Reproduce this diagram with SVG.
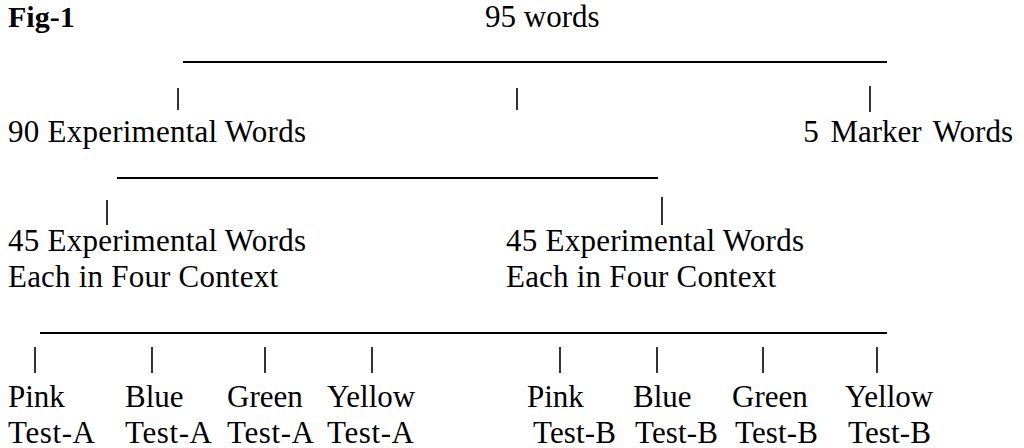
<svg xmlns="http://www.w3.org/2000/svg" width="1024" height="448" viewBox="0 0 1024 448">
<style>
text{font-family:"Liberation Serif","Times New Roman",serif;font-size:31px;fill:#000}
.b{font-weight:bold;font-size:30px}
.h{stroke:#000;stroke-width:2;fill:none}
.t{stroke:#000;stroke-width:1.6;fill:none}
</style>
<rect width="1024" height="448" fill="#fff"/>
<g id="title"><text class="b" x="8" y="27">Fig-1</text></g>
<g id="root"><text x="485" y="27">95 words</text></g>
<g id="exp90"><text x="8" y="142" textLength="298" lengthAdjust="spacing">90 Experimental Words</text></g>
<g id="marker5"><text x="1013" y="142" text-anchor="end" word-spacing="4">5 Marker Words</text></g>
<g id="exp45a"><text x="8" y="251" textLength="298" lengthAdjust="spacing">45 Experimental Words</text><text x="8" y="287" textLength="270" lengthAdjust="spacing">Each in Four Context</text></g>
<g id="exp45b"><text x="506" y="251" textLength="298" lengthAdjust="spacing">45 Experimental Words</text><text x="506" y="287" textLength="270" lengthAdjust="spacing">Each in Four Context</text></g>
<g id="pinkA"><text x="8" y="407">Pink</text><text x="8" y="443" textLength="87" lengthAdjust="spacing">Test-A</text></g>
<g id="blueA"><text x="125" y="407">Blue</text><text x="125" y="443" textLength="87" lengthAdjust="spacing">Test-A</text></g>
<g id="greenA"><text x="227" y="407">Green</text><text x="227" y="443" textLength="87" lengthAdjust="spacing">Test-A</text></g>
<g id="yellowA"><text x="327" y="407">Yellow</text><text x="327" y="443" textLength="87" lengthAdjust="spacing">Test-A</text></g>
<g id="pinkB"><text x="527" y="407">Pink</text><text x="533" y="443" textLength="83" lengthAdjust="spacing">Test-B</text></g>
<g id="blueB"><text x="633" y="407">Blue</text><text x="635" y="443" textLength="83" lengthAdjust="spacing">Test-B</text></g>
<g id="greenB"><text x="732" y="407">Green</text><text x="735" y="443" textLength="83" lengthAdjust="spacing">Test-B</text></g>
<g id="yellowB"><text x="845" y="407">Yellow</text><text x="848" y="443" textLength="83" lengthAdjust="spacing">Test-B</text></g>
<g id="connectors">
<line class="h" x1="183" y1="62" x2="887" y2="62"/>
<line class="t" x1="178" y1="88" x2="178" y2="110"/>
<line class="t" x1="517" y1="88" x2="517" y2="110"/>
<line class="t" x1="870" y1="86" x2="870" y2="112"/>
<line class="h" x1="117" y1="178" x2="658" y2="178"/>
<line class="t" x1="107" y1="200" x2="107" y2="225"/>
<line class="t" x1="662" y1="197" x2="662" y2="225"/>
<line class="h" x1="40" y1="333" x2="887" y2="333"/>
<line class="t" x1="35" y1="347" x2="35" y2="373"/>
<line class="t" x1="152" y1="347" x2="152" y2="373"/>
<line class="t" x1="265" y1="347" x2="265" y2="373"/>
<line class="t" x1="372" y1="347" x2="372" y2="373"/>
<line class="t" x1="560" y1="347" x2="560" y2="373"/>
<line class="t" x1="657" y1="347" x2="657" y2="373"/>
<line class="t" x1="763" y1="347" x2="763" y2="373"/>
<line class="t" x1="877" y1="347" x2="877" y2="373"/>
</g>
</svg>
